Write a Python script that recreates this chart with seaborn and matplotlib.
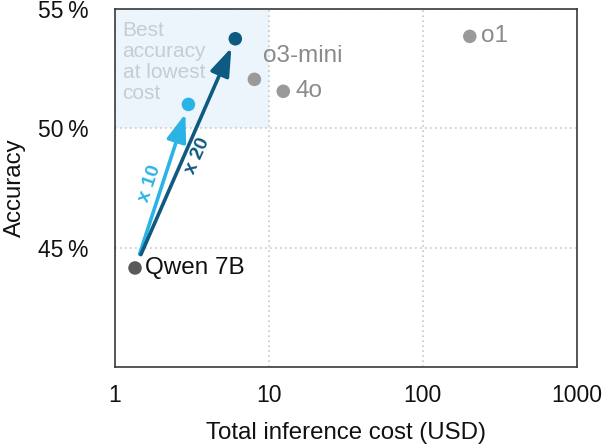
import numpy as np
import pandas as pd
import matplotlib
matplotlib.use("Agg")
import matplotlib.pyplot as plt
import seaborn as sns

# ==========================================================
# DATA
# ==========================================================

models = ["Qwen 7B", "Qwen 7B x10", "Qwen 7B x20", "o3-mini", "4o", "o1"]
cost = [1.35, 3.0, 6.05, 8.05, 12.4, 202]
accuracy = [44.15, 51.0, 53.75, 52.05, 51.55, 53.85]
point_colors = ["#5a5a5a", "#2ab4e6", "#0e5a80", "#9a9a9a", "#9a9a9a", "#9a9a9a"]

# visible labels next to points
label_names = ["Qwen 7B", "o3-mini", "4o", "o1"]
label_colors = ["#111111", "#8a8a8a", "#8a8a8a", "#8a8a8a"]
label_offsets = [(7, 0), (6, 17), (9, 0), (8, 0)]

# arrows from the base model to the scaled runs
arrow_targets = ["Qwen 7B x10", "Qwen 7B x20"]
arrow_texts = ["x 10", "x 20"]
arrow_text_x = [1.69, 3.42]
arrow_text_y = [47.7, 48.85]
arrow_text_rot = [71, 66]

yticks = [45, 50, 55]
xticks = [1, 10, 100, 1000]

df = pd.DataFrame({"model": models, "cost": cost, "accuracy": accuracy})
palette = dict(zip(models, point_colors))

# ==========================================================
# PLOT
# ==========================================================

sns.set_theme(style="white")
plt.rcParams["font.family"] = ["Liberation Sans", "DejaVu Sans"]

fig, ax = plt.subplots(figsize=(6.02, 4.46), dpi=100)
fig.subplots_adjust(left=0.191, right=0.958, top=0.980, bottom=0.177)

# best region
ax.fill_between([1, 10], 50, 55, color="#ecf5fc", zorder=0, linewidth=0)
ax.text(1.12, 54.5, "Best\naccuracy\nat lowest\ncost", color="#c6cdd2",
        fontsize=15, va="top", ha="left", linespacing=1.13, zorder=1)

sns.scatterplot(
    data=df,
    x="cost",
    y="accuracy",
    hue="model",
    palette=palette,
    s=95,
    edgecolor="none",
    legend=False,
    zorder=4,
    ax=ax
)

base = df.set_index("model")
for name, color, off in zip(label_names, label_colors, label_offsets):
    ax.annotate(name, (base.loc[name, "cost"], base.loc[name, "accuracy"]),
                xytext=off, textcoords="offset points", ha="left",
                va="center", color=color, fontsize=17.5, zorder=5)

for tgt, txt, tx, ty, rot in zip(arrow_targets, arrow_texts,
                                 arrow_text_x, arrow_text_y, arrow_text_rot):
    col = palette[tgt]
    ax.annotate("", xy=(base.loc[tgt, "cost"], base.loc[tgt, "accuracy"]),
                xytext=(base.loc["Qwen 7B", "cost"], base.loc["Qwen 7B", "accuracy"]),
                arrowprops=dict(arrowstyle="-|>,head_length=0.85,head_width=0.3",
                                color=col, lw=2.6, mutation_scale=20,
                                shrinkA=10.5, shrinkB=7),
                zorder=3)
    ax.text(tx, ty, txt, color=col, fontsize=14, fontweight="bold",
            rotation=rot, ha="center", va="center", zorder=3)

ax.set_xscale("log")
ax.set_xlim(1, 1000)
ax.set_ylim(40, 55)
ax.set_xticks(xticks)
ax.set_xticklabels([str(v) for v in xticks])
ax.minorticks_off()
ax.set_yticks(yticks)
ax.set_yticklabels([f"{v}\u2009%" for v in yticks])

ax.grid(True, linestyle=(0, (1, 2)), color="#c8c8c8", linewidth=1.2)
ax.set_axisbelow(True)

for sp in ax.spines.values():
    sp.set_color("#3a3a3a")
    sp.set_linewidth(1.2)

ax.tick_params(axis="x", length=0, pad=12, labelsize=16.5, colors="#111111")
ax.tick_params(axis="y", length=0, pad=19, labelsize=16.5, colors="#111111")

ax.set_xlabel("Total inference cost (USD)", fontsize=17.3, labelpad=11, color="#111111")
ax.set_ylabel("Accuracy", fontsize=17.3, labelpad=9, color="#111111")

plt.savefig("out.png", dpi=100)
plt.close()
